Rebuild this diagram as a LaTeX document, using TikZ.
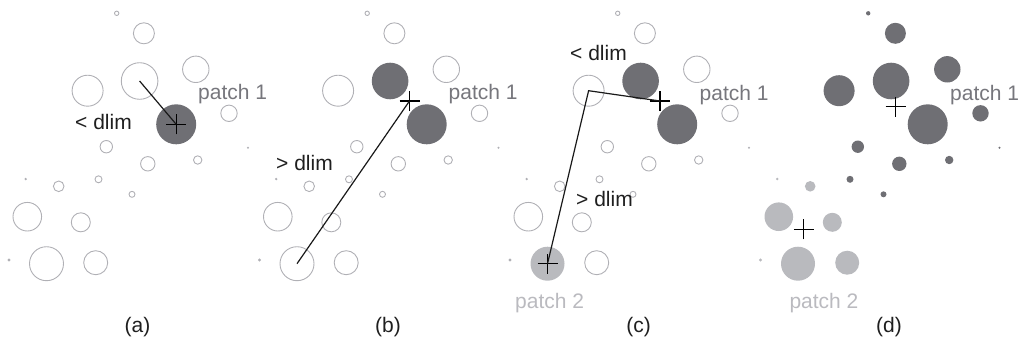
\documentclass[tikz,border=0pt]{standalone}
\usepackage{fontspec}
\setmainfont{Liberation Sans}
\usetikzlibrary{shapes.misc}
\definecolor{darkc}{RGB}{111,111,116}
\definecolor{lightc}{RGB}{185,186,190}
\definecolor{ringc}{RGB}{176,176,181}
\definecolor{ptexta}{RGB}{118,118,124}
\definecolor{ptextb}{RGB}{186,186,191}
\begin{document}
\begin{tikzpicture}[x=1pt,y=-1pt,
  circ/.style={circle, inner sep=0pt, outer sep=0pt},
  ring/.style={draw=ringc, line width=0.9pt},
  darkfill/.style={fill=darkc},
  lightfill/.style={fill=lightc},
  dotfill/.style={fill=ringc},
  crossmark/.style={cross out, draw=black, line width=1.1pt, minimum size=14.14pt, inner sep=0pt, outer sep=0pt, rotate=45},
  link/.style={draw=black!90, line width=1.2pt},
  lbl/.style={font=\fontsize{21}{25}\selectfont, anchor=base west, inner sep=0pt},
  plbla/.style={lbl, text=ptexta},
  plblb/.style={lbl, text=ptextb},
  dlbl/.style={lbl, text=black!88},
  captext/.style={font=\fontsize{21}{25}\selectfont, anchor=base, inner sep=0pt, text=black!88},
  pa-A/.style=darkfill, pa-B/.style=ring, pa-C/.style=ring, pa-P1/.style=ring, pa-P2/.style=ring, pa-D1/.style=dotfill, pa-D2/.style=dotfill,
  pb-A/.style=darkfill, pb-B/.style=darkfill, pb-C/.style=ring, pb-P1/.style=ring, pb-P2/.style=ring, pb-D1/.style=dotfill, pb-D2/.style=dotfill,
  pc-A/.style=darkfill, pc-B/.style=darkfill, pc-C/.style=lightfill, pc-P1/.style=ring, pc-P2/.style=ring, pc-D1/.style=dotfill, pc-D2/.style=dotfill,
  pd-A/.style=darkfill, pd-B/.style=darkfill, pd-C/.style=lightfill, pd-P1/.style=darkfill, pd-P2/.style=lightfill, pd-D1/.style=darkfill, pd-D2/.style=lightfill
]
\useasboundingbox (0,0) rectangle (1025,360);
% circles of the four panels
\foreach \p/\dx in {pa/0, pb/250.5, pc/501, pd/751.5} {
  \begin{scope}[xshift=\dx pt]
    \foreach \n/\x/\y/\r/\cat in {
      t/116.7/13.3/2.2/P1, u/143.9/33.3/10.5/P1, B/139.6/81/18.3/B,
      v/87.6/90.7/15.5/P1, w/195.8/69.3/13.2/P1, A/176.2/124.3/20/A,
      q/229/113.3/8.2/P1, e/106.3/146.7/6.2/P1, f/147.8/163.8/7.2/P1,
      g/197.7/160/4.2/P1, h/98.5/179.3/3.5/P1, k/58.7/186.3/5.3/P2,
      m/132/194.3/3/P1, n/27.3/216.7/14.3/P2, o/80.8/222.3/9.5/P2,
      C/46.5/263.7/17/C, s/95.7/262.7/12/P2,
      d1/25.7/179/1.3/D2, d2/9/260/1.6/D2, d3/248/147.7/1.1/D1} {
      \edef\sty{\p-\cat}
      \node[circ, \sty, minimum size={2*\r pt}] (\p-\n) at (\x,\y) {};
    }
  \end{scope}
}
% panel (a)
\node[crossmark] (pa-X) at (176.2,124.3) {};
\draw[link] (pa-B.center) -- (pa-A.center);
\node[plbla] (pa-l1) at (198,99.5) {patch 1};
\node[dlbl] (pa-d) at (75,129.5) {< dlim};
\node[captext] (pa-cap) at (137.5,332) {(a)};
% panel (b)
\begin{scope}[xshift=250.5pt]
  \node[crossmark] (pb-X) at (159,101) {};
  \node[plbla] (pb-l1) at (198,99.5) {patch 1};
  \node[dlbl] (pb-d) at (25.5,170) {> dlim};
  \node[captext] (pb-cap) at (137.5,332) {(b)};
\end{scope}
\draw[link] (pb-X.center) -- (pb-C.center);
% panel (c)
\begin{scope}[xshift=501pt]
  \node[crossmark] (pc-X) at (159,101) {};
  \node[crossmark] (pc-Y) at (46.5,263.7) {};
  \node[plbla] (pc-l1) at (198.5,100.5) {patch 1};
  \node[plblb] (pc-l2) at (14,308.3) {patch 2};
  \node[dlbl] (pc-d1) at (69,60) {< dlim};
  \node[dlbl] (pc-d2) at (75,206.7) {> dlim};
  \node[captext] (pc-cap) at (137.5,332) {(c)};
\end{scope}
\draw[link] (pc-X.center) -- (pc-v.center) -- (pc-C.center);
% panel (d)
\begin{scope}[xshift=751.5pt]
  \node[crossmark] (pd-X) at (144,106.7) {};
  \node[crossmark] (pd-Y) at (52.3,229.3) {};
  \node[plbla] (pd-l1) at (198.5,100.5) {patch 1};
  \node[plblb] (pd-l2) at (37.8,308.3) {patch 2};
  \node[captext] (pd-cap) at (137.5,332) {(d)};
\end{scope}
\end{tikzpicture}
\end{document}
